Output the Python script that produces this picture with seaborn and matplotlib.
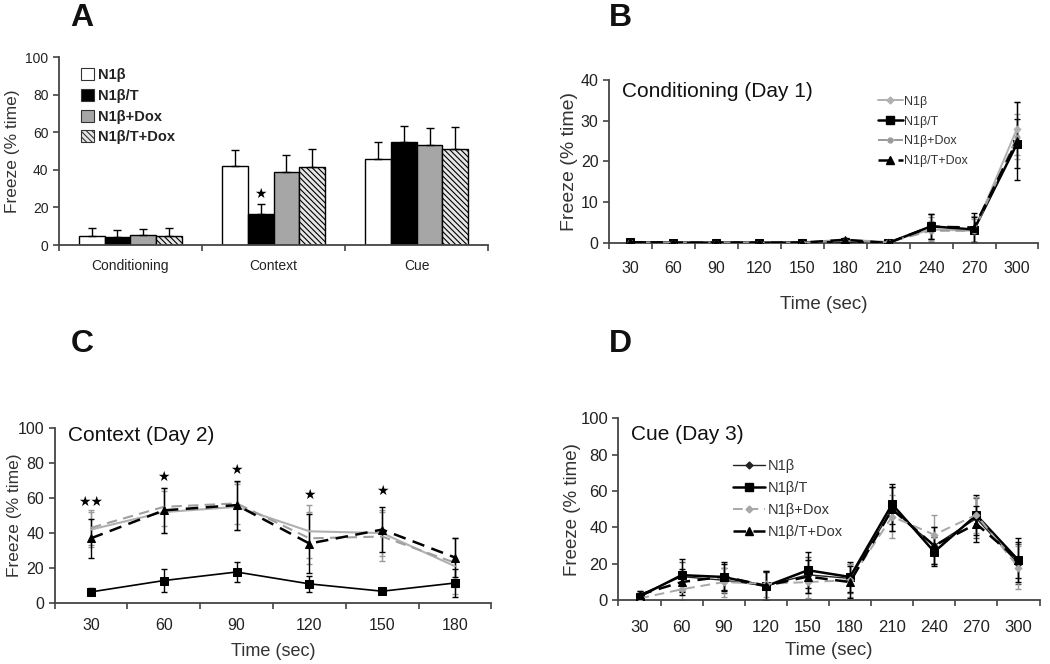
import numpy as np
import pandas as pd
import matplotlib
matplotlib.use("Agg")
import matplotlib.pyplot as plt
from matplotlib.patches import Patch
from matplotlib.lines import Line2D
import seaborn as sns

sns.set_theme(style="white")
plt.rcParams["font.family"] = ["Liberation Sans", "DejaVu Sans"]
plt.rcParams["hatch.color"] = "#444444"
plt.rcParams["hatch.linewidth"] = 0.8

# ---------------- data ----------------
groups = ["N1β", "N1β/T", "N1β+Dox", "N1β/T+Dox"]
phases = ["Conditioning", "Context", "Cue"]

# Panel A (mean, SEM)
a_n1b = [4.8, 42.0, 46.0]
a_n1bt = [4.2, 16.5, 55.0]
a_dox = [5.3, 38.8, 53.3]
a_tdox = [5.0, 41.6, 51.0]
a_n1b_err = [4.0, 8.3, 8.7]
a_n1bt_err = [3.8, 5.3, 8.4]
a_dox_err = [3.2, 9.2, 9.0]
a_tdox_err = [3.8, 9.4, 11.8]
a_star_y = 27

# Panel B
times_b = [30, 60, 90, 120, 150, 180, 210, 240, 270, 300]
b_n1b = [0.2, 0.1, 0.1, 0.1, 0.2, 0.8, 0.3, 3.3, 3.0, 28.0]
b_n1bt = [0.2, 0.1, 0.1, 0.1, 0.1, 0.3, 0.0, 4.1, 3.3, 24.3]
b_dox = [0.2, 0.1, 0.1, 0.1, 0.1, 0.5, 0.2, 3.0, 3.0, 26.0]
b_tdox = [0.2, 0.1, 0.1, 0.1, 0.1, 0.8, 0.0, 4.0, 3.8, 25.0]
b_n1b_err = [0.5, 0.3, 0.3, 0.3, 0.5, 0.5, 0.5, 3.0, 3.5, 6.5]
b_n1bt_err = [0.5, 0.3, 0.3, 0.5, 0.5, 0.5, 0.3, 3.0, 3.0, 6.0]
b_dox_err = [0.5, 0.3, 0.3, 0.3, 0.3, 0.5, 0.5, 2.5, 3.0, 5.5]
b_tdox_err = [0.5, 0.3, 0.3, 0.3, 0.3, 0.5, 0.3, 3.0, 3.5, 9.5]

# Panel C
times_c = [30, 60, 90, 120, 150, 180]
c_n1b = [42, 52, 55, 41, 40, 21]
c_n1bt = [6.3, 12.8, 17.7, 10.9, 6.7, 11.4]
c_dox = [43, 55, 57, 37, 38, 23]
c_tdox = [37, 53, 56, 34, 42, 26]
c_n1b_err = [10, 12, 13, 15, 13, 16]
c_n1bt_err = [2, 6.5, 6, 4.7, 1.5, 8]
c_dox_err = [10, 11, 12, 15, 14, 14]
c_tdox_err = [11, 13, 14, 17, 13, 11]
c_star_labels = ["★★", "★", "★", "★", "★", ""]
c_star_y = [58, 72, 76, 62, 64, 0]

# Panel D
times_d = [30, 60, 90, 120, 150, 180, 210, 240, 270, 300]
d_n1b = [3, 13, 11, 8, 14, 12, 50, 30, 45, 20]
d_n1bt = [2, 13.8, 12.8, 7.7, 16.5, 12.8, 52.8, 26.6, 46.8, 22]
d_dox = [1, 6, 10, 9, 10, 11, 46, 36, 47, 18]
d_tdox = [3, 10, 13, 8, 13, 10, 50, 30, 42, 22]
d_n1b_err = [2, 8, 7, 8, 10, 8, 12, 10, 11, 11]
d_n1bt_err = [2, 9, 7, 8, 10, 8, 11, 8, 11, 10]
d_dox_err = [2, 6, 8, 7, 9, 9, 12, 11, 10, 12]
d_tdox_err = [2, 7, 8, 8, 9, 9, 12, 10, 10, 12]

# ---------------- figure ----------------
fig = plt.figure(figsize=(10.5, 6.64), dpi=100)
axA = fig.add_axes([0.056, 0.631, 0.409, 0.283])
axB = fig.add_axes([0.580, 0.634, 0.409, 0.246])
axC = fig.add_axes([0.052, 0.092, 0.416, 0.263])
axD = fig.add_axes([0.589, 0.096, 0.401, 0.274])

AXC = "#444444"
TXT = "#222222"


def style_axis(ax, n, labels, ylim, yticks, tick_fs, ylab_fs, xpad, ylab_x):
    for s in ["top", "right"]:
        ax.spines[s].set_visible(False)
    for s in ["left", "bottom"]:
        ax.spines[s].set_color(AXC)
        ax.spines[s].set_linewidth(1.3)
    ax.set_xlim(-0.5, n - 0.5)
    ax.set_ylim(*ylim)
    ax.set_yticks(yticks)
    ax.set_xticks(np.arange(n + 1) - 0.5)
    ax.set_xticklabels([])
    ax.set_xticks(np.arange(n), minor=True)
    ax.set_xticklabels(labels, minor=True, fontsize=tick_fs, color=TXT)
    ax.tick_params(axis="x", which="major", direction="out", length=4,
                   width=1.2, color=AXC, bottom=True)
    ax.tick_params(axis="x", which="minor", length=0, pad=xpad, bottom=True)
    ax.tick_params(axis="y", direction="out", length=4, width=1.2,
                   color=AXC, labelsize=tick_fs, labelcolor=TXT, left=True)
    ax.set_ylabel("Freeze (% time)", fontsize=ylab_fs, color="#333333")
    ax.yaxis.set_label_coords(ylab_x, 0.5)
    ax.grid(False)


# ---------------- Panel A ----------------
dfA = pd.DataFrame({
    "phase": phases * 4,
    "group": [g for g in groups for _ in phases],
    "freeze": a_n1b + a_n1bt + a_dox + a_tdox,
    "sem": a_n1b_err + a_n1bt_err + a_dox_err + a_tdox_err,
})
palA = {"N1β": "white", "N1β/T": "black", "N1β+Dox": "#a6a6a6", "N1β/T+Dox": "#e6e6e6"}
sns.barplot(data=dfA, x="phase", y="freeze", hue="group", hue_order=groups,
            order=phases, palette=palA, edgecolor="black", linewidth=1.0,
            width=0.72, errorbar=None, legend=False, ax=axA)
bar_containers = list(axA.containers)
for gi, cont in enumerate(bar_containers):
    errs = dfA[dfA.group == groups[gi]].set_index("phase").loc[phases, "sem"].values
    xs = [b.get_x() + b.get_width() / 2 for b in cont]
    hs = [b.get_height() for b in cont]
    if gi == 3:
        for b in cont:
            b.set_hatch("\\\\\\\\\\\\")
    axA.errorbar(xs, hs, yerr=[np.zeros(len(errs)), errs], fmt="none",
                 ecolor="black", elinewidth=1.0, capsize=3, capthick=1.0, zorder=1)
ctx_bar = bar_containers[1][1]
axA.text(ctx_bar.get_x() + ctx_bar.get_width() / 2, a_star_y, "★",
         ha="center", va="center", fontsize=10, color="black",
         family=["DejaVu Sans"])
style_axis(axA, 3, phases, (0, 100), [0, 20, 40, 60, 80, 100], 10, 12.5, 10, -0.091)
axA.set_xlabel("")
handlesA = [Patch(facecolor=palA[g], edgecolor="#333333", linewidth=0.8,
                  hatch=("\\\\\\\\\\\\" if i == 3 else None)) for i, g in enumerate(groups)]
legA = axA.legend(handlesA, groups, loc="upper left", bbox_to_anchor=(0.02, 1.01),
                  frameon=False, handlelength=0.9, handleheight=0.9,
                  handletextpad=0.3, labelspacing=0.45,
                  prop={"weight": "bold", "size": 10.5})
for t in legA.get_texts():
    t.set_color(TXT)


# ---------------- line panels ----------------
def line_panel(ax, times, series, errs, styles):
    idx = np.arange(len(times))
    for g, y, e in zip(groups, series, errs):
        st = styles[g]
        ax.errorbar(idx, y, yerr=e, fmt="none", ecolor=st["ecolor"],
                    elinewidth=1.0, capsize=2.5, capthick=1.0, zorder=1)
    for g, y in zip(groups, series):
        st = styles[g]
        sns.lineplot(x=idx, y=y, ax=ax, color=st["color"], linestyle=st["ls"],
                     linewidth=st["lw"], marker=st["marker"], markersize=st["ms"],
                     markeredgecolor=st["color"], label=g, legend=False, zorder=3)


def handles(styles):
    return [Line2D([], [], color=styles[g]["color"], ls=styles[g]["ls"],
                   lw=styles[g]["lw"], marker=styles[g]["marker"],
                   ms=styles[g]["ms"]) for g in groups]


stylesB = {
    "N1β": dict(color="#b0b0b0", ls="-", lw=1.4, marker="D", ms=3.5, ecolor="#999999"),
    "N1β/T": dict(color="black", ls="-", lw=1.8, marker="s", ms=5.5, ecolor="black"),
    "N1β+Dox": dict(color="#9a9a9a", ls=(0, (5, 3)), lw=1.4, marker="o", ms=3.5, ecolor="#999999"),
    "N1β/T+Dox": dict(color="black", ls=(0, (5, 3)), lw=1.8, marker="^", ms=5.5, ecolor="black"),
}
line_panel(axB, times_b, [b_n1b, b_n1bt, b_dox, b_tdox],
           [b_n1b_err, b_n1bt_err, b_dox_err, b_tdox_err], stylesB)
style_axis(axB, len(times_b), [str(t) for t in times_b], (0, 40),
           [0, 10, 20, 30, 40], 11.5, 14, 13, -0.072)
axB.set_xlabel("Time (sec)", fontsize=13.5, color="#333333", labelpad=14)
axB.text(0.03, 0.93, "Conditioning (Day 1)", transform=axB.transAxes,
         fontsize=15, color="#111111", va="center", ha="left")
legB = axB.legend(handles(stylesB), groups, loc="upper left", bbox_to_anchor=(0.60, 0.97),
                  frameon=False, handlelength=2.0, handletextpad=0.1,
                  labelspacing=0.62, fontsize=9)
for t in legB.get_texts():
    t.set_color("#333333")

stylesC = {
    "N1β": dict(color="#b0b0b0", ls="-", lw=1.5, marker=None, ms=0, ecolor="#9a9a9a"),
    "N1β/T": dict(color="black", ls="-", lw=1.2, marker="s", ms=6, ecolor="black"),
    "N1β+Dox": dict(color="#a0a0a0", ls=(0, (5, 3)), lw=1.5, marker=None, ms=0, ecolor="#9a9a9a"),
    "N1β/T+Dox": dict(color="black", ls=(0, (5, 3)), lw=1.8, marker="^", ms=5.5, ecolor="black"),
}
line_panel(axC, times_c, [c_n1b, c_n1bt, c_dox, c_tdox],
           [c_n1b_err, c_n1bt_err, c_dox_err, c_tdox_err], stylesC)
style_axis(axC, len(times_c), [str(t) for t in times_c], (0, 100),
           [0, 20, 40, 60, 80, 100], 11.5, 12.5, 11, -0.074)
axC.set_xlabel("Time (sec)", fontsize=13, color="#333333", labelpad=7)
axC.text(0.03, 0.96, "Context (Day 2)", transform=axC.transAxes,
         fontsize=15, color="#111111", va="center", ha="left")
for i, (lab, yv) in enumerate(zip(c_star_labels, c_star_y)):
    if lab:
        axC.text(i, yv, lab, ha="center", va="center", fontsize=10,
                 color="black", family=["DejaVu Sans"])

stylesD = {
    "N1β": dict(color="#222222", ls="-", lw=1.0, marker="D", ms=3.5, ecolor="#555555"),
    "N1β/T": dict(color="black", ls="-", lw=1.8, marker="s", ms=6, ecolor="black"),
    "N1β+Dox": dict(color="#a8a8a8", ls=(0, (5, 3)), lw=1.4, marker="D", ms=3.5, ecolor="#999999"),
    "N1β/T+Dox": dict(color="black", ls=(0, (5, 3)), lw=1.8, marker="^", ms=5.5, ecolor="black"),
}
line_panel(axD, times_d, [d_n1b, d_n1bt, d_dox, d_tdox],
           [d_n1b_err, d_n1bt_err, d_dox_err, d_tdox_err], stylesD)
style_axis(axD, len(times_d), [str(t) for t in times_d], (0, 100),
           [0, 20, 40, 60, 80, 100], 12, 13.5, 14, -0.09)
axD.set_xlabel("Time (sec)", fontsize=13.5, color="#333333", labelpad=5)
axD.text(0.03, 0.91, "Cue (Day 3)", transform=axD.transAxes,
         fontsize=15, color="#111111", va="center", ha="left")
legD = axD.legend(handles(stylesD), groups, loc="upper left", bbox_to_anchor=(0.24, 0.85),
                  frameon=False, handlelength=2.2, handletextpad=0.2,
                  labelspacing=0.55, fontsize=10.5)
for t in legD.get_texts():
    t.set_color("#333333")

# panel letters
for lab, x, y in [("A", 0.078, 0.973), ("B", 0.580, 0.973),
                  ("C", 0.078, 0.482), ("D", 0.580, 0.482)]:
    fig.text(x, y, lab, fontsize=23, fontweight="bold", color="#111111",
             ha="center" if lab in "AC" else "left", va="center")

fig.savefig("out.png", dpi=100)
